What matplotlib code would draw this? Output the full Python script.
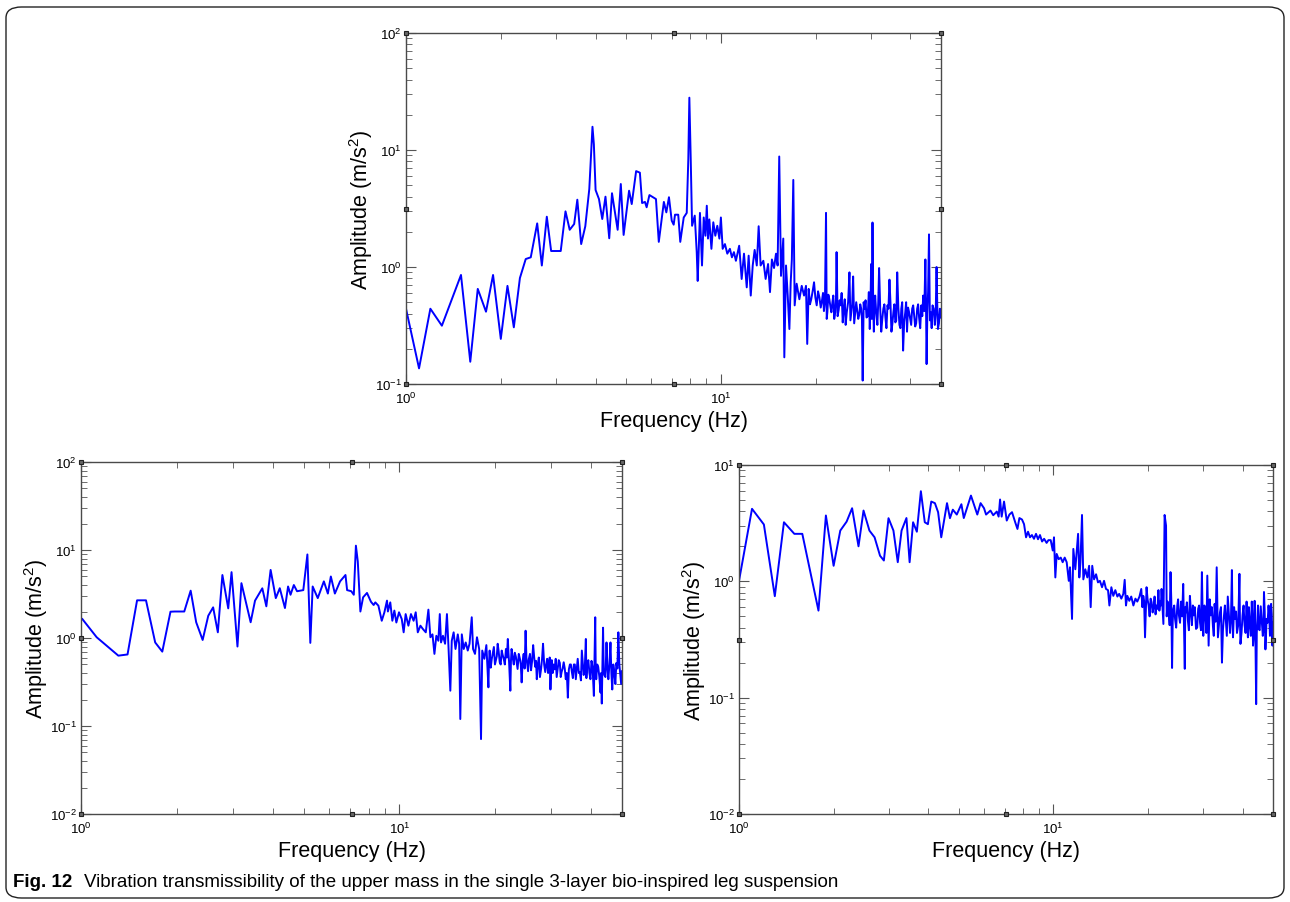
import matplotlib
matplotlib.use('agg')
import matplotlib.pyplot as plt
from matplotlib.patches import FancyBboxPatch
from matplotlib.ticker import LogLocator, NullFormatter

plt.rcParams['font.family'] = ['Liberation Sans', 'DejaVu Sans']
plt.rcParams['mathtext.fontset'] = 'custom'
plt.rcParams['mathtext.rm'] = 'Liberation Sans'
plt.rcParams['mathtext.it'] = 'Liberation Sans:italic'
plt.rcParams['mathtext.bf'] = 'Liberation Sans:bold'

# upper mass spectrum (top panel)
top_freq = [1.00, 1.10, 1.195, 1.30, 1.495, 1.60, 1.69, 1.795, 1.89, 2.00, 2.10, 2.20, 2.30, 2.40, 2.49,
            2.61, 2.70, 2.80, 2.89, 3.10, 3.21, 3.31, 3.42, 3.50, 3.60, 3.71, 3.82, 3.91, 3.95, 4.00,
            4.10, 4.20, 4.30, 4.42, 4.51, 4.70, 4.81, 4.91, 5.11, 5.21, 5.38, 5.53, 5.62, 5.74, 5.81,
            5.93, 6.22, 6.35, 6.59, 6.71, 6.84, 6.98, 7.08, 7.15, 7.32, 7.43, 7.62, 7.79, 7.88, 7.94,
            8.02, 8.10, 8.26, 8.38, 8.44, 8.58, 8.71, 8.82, 8.93, 9.02, 9.10, 9.19, 9.33, 9.46, 9.60,
            9.74, 9.89, 10.0, 10.13, 10.3, 10.48, 10.68, 10.84, 11.0, 11.16, 11.43, 11.64, 11.84, 12.08, 12.25,
            12.44, 12.62, 12.8, 13.0, 13.18, 13.37, 13.64, 13.87, 14.12, 14.32, 14.52, 14.75, 14.96, 15.14, 15.32,
            15.52, 15.78, 15.9, 16.1, 16.3, 16.5, 16.66, 16.8, 16.98, 17.15, 17.4, 17.75, 18.06, 18.37, 18.63,
            18.8, 19.0, 19.36, 19.76, 20.15, 20.55, 20.95, 21.24, 21.57, 21.78, 22.1, 22.43, 22.75, 23.08, 23.3,
            23.66, 24.0, 24.37, 24.73, 25.1, 25.6, 25.95, 26.3, 26.7, 27.1, 27.5, 27.9, 28.2, 28.6, 29.0,
            29.5, 29.7, 30.0, 30.3, 30.6, 30.9, 31.4, 31.8, 32.3, 32.8, 33.3, 33.8, 34.3, 34.8, 35.3,
            35.8, 36.3, 36.9, 37.4, 37.9, 38.5, 39.0, 39.6, 40.2, 40.8, 41.4, 42.0, 42.6, 43.3, 43.9,
            44.6, 45.0, 45.5, 45.8, 46.4, 47.0, 47.8, 48.4, 48.9, 49.6, 50.0]
top_amp = [0.44, 0.136, 0.44, 0.315, 0.855, 0.155, 0.65, 0.415, 0.855, 0.243, 0.69, 0.305, 0.805, 1.17, 1.21,
           2.36, 1.03, 2.69, 1.37, 1.37, 2.99, 2.08, 2.33, 3.76, 1.57, 2.23, 4.64, 15.8, 11.2, 4.55,
           3.81, 2.57, 3.99, 1.76, 4.27, 2.08, 5.12, 1.88, 4.49, 3.45, 6.6, 6.4, 3.52, 3.6, 3.24,
           4.12, 3.81, 1.64, 3.6, 2.93, 3.95, 2.49, 2.3, 2.8, 2.8, 1.64, 2.65, 2.9, 8.4, 28.0,
           8.4, 2.25, 2.75, 1.34, 0.76, 2.9, 1.03, 2.65, 1.85, 3.34, 1.75, 2.55, 1.43, 2.41, 1.85,
           2.25, 1.75, 2.65, 1.43, 1.57, 1.3, 1.43, 1.21, 1.34, 1.13, 1.52, 0.79, 1.3, 0.67, 1.25,
           0.57, 1.03, 1.4, 1.03, 2.23, 1.03, 1.13, 0.79, 1.06, 0.61, 1.16, 0.98, 1.3, 1.03, 8.8,
           0.84, 1.75, 0.169, 1.03, 0.57, 0.295, 0.74, 1.16, 5.55, 0.47, 0.72, 0.53, 0.69, 0.57, 0.69,
           0.22, 0.65, 0.53, 0.74, 0.47, 0.55, 0.52, 0.42, 2.9, 0.41, 0.53, 0.41, 0.57, 0.41, 1.34,
           0.43, 0.47, 0.336, 0.53, 0.41, 0.90, 0.41, 0.83, 0.41, 0.42, 0.39, 0.44, 0.107, 0.44, 0.37,
           0.61, 0.295, 1.06, 2.4, 0.28, 0.57, 0.32, 0.98, 0.28, 0.44, 0.37, 0.47, 0.78, 0.28, 0.41,
           0.336, 0.90, 0.32, 0.44, 0.193, 0.41, 0.28, 0.41, 0.32, 0.47, 0.31, 0.44, 0.37, 0.47, 0.57,
           1.16, 0.148, 0.61, 1.9, 0.41, 0.47, 0.32, 1.0, 0.295, 0.44, 0.37]
# extra bins inside the dense noise band above ~19 Hz
top_band_freq = [19.18, 19.56, 19.95, 20.35, 20.75, 21.1, 21.4, 21.68, 21.94, 22.27, 22.6, 22.9, 23.2, 23.48,
                 23.83, 24.18, 24.55, 24.9, 25.35, 25.78, 26.12, 26.5, 26.9, 27.3, 27.7, 28.05, 28.4, 28.8,
                 29.25, 29.85, 30.15, 30.45, 30.75, 31.15, 31.6, 32.05, 32.55, 33.05, 33.55, 34.05, 34.55,
                 35.05, 35.55, 36.05, 36.6, 37.15, 37.65, 38.2, 38.75, 39.3, 39.9, 40.5, 41.1, 41.7, 42.3,
                 42.95, 43.6, 44.25, 44.8, 45.25, 46.1, 46.7, 47.4, 48.1, 48.65, 49.25, 49.8]
top_band_amp = [0.48, 0.62, 0.55, 0.62, 0.45, 0.6, 0.5, 0.36, 0.58, 0.46, 0.5, 0.36, 0.55, 0.38,
                0.52, 0.6, 0.44, 0.32, 0.5, 0.35, 0.48, 0.33, 0.5, 0.36, 0.48, 0.36, 0.5, 0.52,
                0.38, 0.45, 0.36, 0.5, 0.48, 0.4, 0.5, 0.45, 0.36, 0.48, 0.3, 0.44, 0.5,
                0.33, 0.48, 0.35, 0.45, 0.3, 0.5, 0.34, 0.5, 0.45, 0.36, 0.44, 0.38, 0.33, 0.48,
                0.3, 0.38, 0.42, 0.5, 0.4, 0.35, 0.3, 0.44, 0.4, 0.48, 0.33, 0.42]

# bottom-left panel
left_freq = [1.01, 1.12, 1.31, 1.40, 1.50, 1.60, 1.71, 1.80, 1.91, 1.97, 2.11, 2.21, 2.30, 2.41, 2.51,
             2.60, 2.69, 2.78, 2.90, 2.97, 3.10, 3.19, 3.41, 3.52, 3.71, 3.82, 3.94, 4.09, 4.21, 4.37,
             4.47, 4.55, 4.66, 4.77, 4.99, 5.14, 5.25, 5.34, 5.54, 5.79, 5.96, 6.09, 6.27, 6.51, 6.77,
             6.85, 7.06, 7.19, 7.30, 7.40, 7.54, 7.69, 7.91, 8.14, 8.30, 8.40, 8.59, 8.80, 8.97, 9.14,
             9.20, 9.36, 9.50, 9.64, 9.78, 9.97, 10.17, 10.31, 10.46, 10.67, 10.87, 11.08, 11.25, 11.42, 11.64,
             11.86, 12.1, 12.33, 12.51, 12.7, 12.88, 13.06, 13.25, 13.39, 13.51, 13.7, 13.91, 14.1, 14.25, 14.45,
             14.6, 14.8, 15.0, 15.25, 15.4, 15.53, 15.7, 15.92, 16.15, 16.39, 16.6, 16.87, 17.03, 17.27, 17.52,
             17.8, 18.04, 18.2, 18.48, 18.75, 19.03, 19.2, 19.5, 19.8, 20.1, 20.35, 20.65, 20.95, 21.26, 21.6,
             21.9, 22.1, 22.3, 22.5, 22.86, 23.2, 23.5, 23.9, 24.2, 24.56, 24.9, 25.2, 25.5, 25.9, 26.3,
             26.7, 27.0, 27.4, 27.85, 28.25, 28.7, 29.1, 29.5, 29.8, 30.1, 30.5, 30.96, 31.4, 31.9, 32.3,
             32.8, 33.3, 33.8, 34.3, 34.8, 35.3, 35.8, 36.3, 36.85, 37.4, 37.9, 38.5, 38.8, 39.2, 39.8,
             40.4, 40.8, 41.2, 41.5, 42.1, 42.8, 43.2, 43.6, 44.0, 44.7, 45.3, 46.0, 46.6, 47.3, 48.0,
             48.7, 49.4, 50.0]
left_amp = [1.64, 1.02, 0.63, 0.65, 2.68, 2.68, 0.89, 0.70, 1.99, 2.0, 2.0, 3.45, 1.51, 0.95, 1.79,
            2.23, 1.16, 5.2, 2.17, 5.6, 0.80, 4.2, 1.51, 2.66, 3.67, 2.29, 5.94, 2.84, 3.68, 2.19,
            3.85, 3.1, 4.0, 3.4, 3.5, 8.9, 0.88, 3.85, 2.84, 4.4, 3.2, 5.0, 3.2, 4.4, 5.2,
            3.5, 3.4, 3.1, 11.2, 7.4, 2.0, 2.9, 3.25, 2.58, 2.37, 2.54, 2.33, 1.57, 1.96, 2.66,
            2.0, 2.54, 1.57, 2.05, 1.5, 1.96, 1.64, 1.16, 1.87, 1.38, 1.87, 1.57, 1.96, 1.16, 1.38,
            1.26, 1.16, 2.1, 1.02, 1.1, 0.66, 1.06, 0.93, 1.87, 0.89, 1.06, 0.86, 1.87, 0.83, 0.252,
            0.93, 1.16, 0.75, 1.1, 0.86, 0.12, 1.1, 0.75, 0.89, 0.72, 0.86, 1.72, 0.75, 0.66, 1.02,
            0.75, 0.071, 0.72, 0.58, 0.83, 0.275, 0.72, 0.58, 0.79, 0.56, 0.86, 0.53, 0.72, 0.58, 0.75,
            0.975, 0.53, 0.252, 0.75, 0.50, 0.62, 0.445, 0.58, 0.313, 0.66, 1.21, 0.50, 0.58, 0.43, 0.83,
            0.47, 0.34, 0.6, 0.445, 0.86, 0.41, 0.58, 0.52, 0.26, 0.56, 0.50, 0.58, 0.445, 0.52, 0.41,
            0.53, 0.34, 0.21, 0.50, 0.41, 0.5, 0.34, 0.58, 0.41, 0.72, 0.38, 0.975, 0.445, 0.56, 0.34,
            0.47, 0.22, 1.72, 0.34, 0.47, 0.24, 0.18, 1.31, 0.38, 0.89, 0.34, 0.89, 0.26, 0.41, 0.52,
            1.16, 0.38, 0.42]
left_band_freq = [19.1, 19.35, 19.65, 19.95, 20.22, 20.5, 20.8, 21.1, 21.43, 21.75, 22.0, 22.4, 22.68, 23.03,
                  23.35, 23.7, 24.05, 24.38, 24.73, 25.05, 25.35, 25.7, 26.1, 26.5, 26.85, 27.2, 27.62, 28.05,
                  28.48, 28.9, 29.3, 29.65, 29.95, 30.3, 30.73, 31.18, 31.65, 32.1, 32.55, 33.05, 33.55, 34.05,
                  34.55, 35.05, 35.55, 36.05, 36.6, 37.15, 37.65, 38.2, 38.65, 39.0, 39.5, 40.1, 40.6, 41.35,
                  41.8, 42.45, 43.0, 43.4, 43.8, 44.35, 45.0, 45.65, 46.3, 46.95, 47.65, 48.35, 49.05, 49.7]
left_band_amp = [0.5, 0.46, 0.68, 0.5, 0.62, 0.7, 0.5, 0.64, 0.5, 0.6, 0.68, 0.55, 0.6, 0.68,
                 0.52, 0.66, 0.5, 0.55, 0.45, 0.6, 0.42, 0.66, 0.55, 0.6, 0.55, 0.5, 0.36, 0.58,
                 0.5, 0.5, 0.4, 0.6, 0.42, 0.4, 0.44, 0.36, 0.56, 0.36, 0.45, 0.45, 0.4, 0.44,
                 0.5, 0.35, 0.5, 0.45, 0.4, 0.33, 0.52, 0.45, 0.35, 0.52, 0.4, 0.55, 0.32, 0.45,
                 0.5, 0.36, 0.4, 0.5, 0.45, 0.36, 0.46, 0.5, 0.4, 0.5, 0.3, 0.45, 0.5, 0.3]

# bottom-right panel
right_freq = [1.00, 1.10, 1.20, 1.30, 1.39, 1.50, 1.59, 1.79, 1.89, 2.00, 2.10, 2.20, 2.29, 2.40, 2.49,
              2.60, 2.70, 2.81, 2.89, 2.99, 3.10, 3.20, 3.29, 3.41, 3.49, 3.58, 3.68, 3.79, 3.90, 3.99,
              4.09, 4.20, 4.30, 4.40, 4.59, 4.69, 4.79, 4.93, 5.10, 5.19, 5.47, 5.73, 5.87, 6.02, 6.11,
              6.31, 6.44, 6.61, 6.70, 6.77, 6.85, 6.97, 7.11, 7.25, 7.39, 7.57, 7.69, 7.80, 7.95, 8.07,
              8.19, 8.31, 8.43, 8.55, 8.68, 8.81, 8.94, 9.07, 9.21, 9.35, 9.52, 9.65, 9.81, 9.96, 10.05,
              10.15, 10.25, 10.4, 10.56, 10.71, 10.87, 11.03, 11.2, 11.3, 11.47, 11.58, 11.75, 11.99, 12.1, 12.2,
              12.34, 12.46, 12.64, 12.83, 13.0, 13.15, 13.3, 13.48, 13.68, 13.87, 14.07, 14.29, 14.5, 14.71, 14.93,
              15.08, 15.3, 15.52, 15.75, 15.99, 16.2, 16.46, 16.7, 16.87, 17.03, 17.2, 17.45, 17.7, 17.98, 18.25,
              18.5, 18.8, 19.05, 19.33, 19.58, 19.8, 20.1, 20.4, 20.7, 21.0, 21.3, 21.6, 21.9, 22.1, 22.4,
              22.6, 22.84, 23.1, 23.3, 23.6, 23.87, 24.1, 24.4, 24.8, 25.1, 25.5, 25.9, 26.2, 26.4, 26.8,
              27.2, 27.6, 28.0, 28.45, 28.9, 29.3, 29.7, 30.0, 30.5, 30.9, 31.2, 31.7, 32.2, 32.6, 33.1,
              33.4, 33.9, 34.4, 34.9, 35.4, 35.9, 36.5, 37.0, 37.3, 37.9, 38.4, 39.1, 39.4, 40.0, 40.6,
              41.2, 41.6, 42.2, 42.8, 43.2, 43.7, 44.2, 44.6, 45.0, 45.7, 46.4, 46.8, 47.3, 47.7, 48.4,
              48.9, 49.3, 49.8, 50.0]
right_amp = [1.01, 4.2, 3.08, 0.745, 3.22, 2.56, 2.56, 0.56, 3.68, 1.36, 2.73, 3.26, 4.25, 2.0, 4.06,
             2.73, 2.39, 1.66, 1.51, 3.49, 2.73, 1.46, 2.73, 3.5, 1.46, 3.22, 2.67, 5.95, 3.22, 3.1,
             4.85, 4.7, 3.93, 2.39, 4.7, 3.49, 4.13, 3.75, 4.6, 3.5, 5.46, 3.75, 4.7, 4.25, 3.75,
             4.06, 3.7, 3.98, 3.6, 5.05, 3.6, 4.85, 3.33, 3.75, 3.93, 3.2, 2.82, 3.5, 3.4, 3.1,
             2.39, 2.67, 2.39, 2.5, 2.32, 2.56, 2.3, 2.5, 2.2, 2.32, 2.14, 2.26, 2.26, 1.84, 2.39,
             1.08, 1.72, 1.55, 1.6, 1.46, 1.6, 1.46, 1.01, 1.32, 0.475, 1.90, 1.27, 2.56, 1.08, 1.46,
             3.72, 1.04, 1.27, 1.08, 1.36, 0.60, 1.36, 1.04, 1.15, 0.98, 1.01, 0.89, 1.01, 0.86, 0.84,
             0.62, 0.89, 0.75, 0.84, 0.74, 0.78, 0.71, 0.78, 1.03, 0.62, 0.75, 0.68, 0.74, 0.62, 0.71,
             0.67, 0.74, 0.86, 0.75, 0.33, 0.89, 0.62, 0.71, 0.54, 0.74, 0.62, 0.84, 0.67, 0.86, 0.43,
             3.72, 3.01, 0.67, 0.54, 1.2, 0.18, 0.58, 0.475, 0.62, 0.51, 0.67, 0.95, 0.177, 0.54, 0.46,
             0.75, 0.42, 0.51, 0.39, 0.58, 0.44, 1.2, 0.34, 0.51, 1.12, 0.28, 0.51, 0.41, 0.64, 1.32,
             0.33, 0.54, 0.20, 0.5, 0.46, 0.74, 0.36, 1.25, 0.33, 0.475, 0.36, 1.16, 0.29, 0.51, 0.42,
             0.67, 0.33, 0.42, 0.67, 0.28, 0.68, 0.088, 0.475, 0.39, 0.61, 0.34, 0.81, 0.26, 0.475, 0.62,
             0.34, 0.64, 0.28, 0.44]
right_band_freq = [19.2, 19.45, 19.7, 19.95, 20.25, 20.55, 20.85, 21.15, 21.45, 21.75, 22.0, 22.25, 22.95, 23.2,
                   23.45, 23.73, 23.98, 24.25, 24.6, 24.95, 25.3, 25.7, 26.3, 26.6, 27.0, 27.4, 27.8, 28.2,
                   28.7, 29.1, 29.5, 29.85, 30.25, 30.7, 31.05, 31.45, 31.95, 32.4, 32.85, 33.25, 33.65, 34.15,
                   34.65, 35.15, 35.65, 36.2, 36.75, 37.15, 37.6, 38.15, 38.75, 39.25, 39.7, 40.3, 40.9, 41.4,
                   41.9, 42.5, 43.0, 43.45, 43.95, 44.4, 44.8, 45.35, 46.05, 46.6, 47.05, 47.5, 48.05, 48.65,
                   49.1, 49.55]
right_band_amp = [0.6, 0.68, 0.55, 0.7, 0.5, 0.66, 0.6, 0.52, 0.58, 0.56, 0.62, 0.6, 0.5, 0.6,
                  0.42, 0.7, 0.45, 0.62, 0.4, 0.7, 0.44, 0.5, 0.6, 0.66, 0.38, 0.55, 0.62, 0.6,
                  0.4, 0.62, 0.38, 0.55, 0.62, 0.36, 0.55, 0.7, 0.6, 0.34, 0.45, 0.62, 0.42, 0.6,
                  0.38, 0.62, 0.34, 0.52, 0.48, 0.5, 0.6, 0.55, 0.42, 0.45, 0.36, 0.62, 0.36, 0.45,
                  0.6, 0.34, 0.5, 0.35, 0.35, 0.36, 0.62, 0.38, 0.45, 0.38, 0.55, 0.34, 0.44, 0.5,
                  0.42, 0.52]


def merged(freq, amp, band_freq, band_amp):
    pts = sorted(zip(freq + band_freq, amp + band_amp))
    return [p[0] for p in pts], [p[1] for p in pts]


fig = plt.figure(figsize=(12.9, 9.03), dpi=100)

# rounded frame around the whole figure
frame = FancyBboxPatch((6 / 1290, 4 / 903), 1278 / 1290, 891 / 903,
                       boxstyle='round,pad=0,rounding_size=0.012',
                       transform=fig.transFigure, fill=False, ec='#222222', lw=1.0)
fig.patches.append(frame)

panels = [
    ([406 / 1290, 1 - 385 / 903, 535 / 1290, 351 / 903],
     merged(top_freq, top_amp, top_band_freq, top_band_amp), (0.1, 100)),
    ([81 / 1290, 1 - 815 / 903, 541 / 1290, 352 / 903],
     merged(left_freq, left_amp, left_band_freq, left_band_amp), (0.01, 100)),
    ([739 / 1290, 1 - 815 / 903, 534 / 1290, 349 / 903],
     merged(right_freq, right_amp, right_band_freq, right_band_amp), (0.01, 10)),
]

for rect, (freq, amp), ylim in panels:
    ax = fig.add_axes(rect)
    ax.loglog(freq, amp, color='#0000ff', lw=1.4)
    ax.set_xlim(1, 50)
    ax.set_ylim(*ylim)
    ax.xaxis.set_minor_locator(LogLocator(base=10, subs=range(2, 10)))
    ax.yaxis.set_minor_locator(LogLocator(base=10, subs=range(2, 10)))
    ax.xaxis.set_minor_formatter(NullFormatter())
    ax.yaxis.set_minor_formatter(NullFormatter())
    ax.tick_params(which='both', direction='in', top=True, right=True,
                   color='#555555', labelsize=9.5)
    ax.tick_params(axis='x', pad=5)
    ax.tick_params(axis='y', pad=3)
    ax.tick_params(which='major', length=7, width=0.8)
    ax.tick_params(which='minor', length=4, width=0.6)
    for s in ax.spines.values():
        s.set_color('#4a4a4a')
        s.set_linewidth(1.0)
    ax.set_xlabel('Frequency (Hz)', fontsize=15.5, labelpad=3)
    ax.set_ylabel('Amplitude (m/s$^2$)', fontsize=15.5)
    ax.yaxis.set_label_coords(-0.058, 0.5)
    # selection handles on corners and edge midpoints
    hx = [0, 0.5, 1, 0, 1, 0, 0.5, 1]
    hy = [0, 0, 0, 0.5, 0.5, 1, 1, 1]
    ax.plot(hx, hy, 's', ms=3.5, mfc='#666666', mec='#222222', mew=0.8,
            transform=ax.transAxes, clip_on=False, zorder=5)

fig.text(13 / 1290, 1 - 883 / 903, 'Fig. 12', fontsize=13.5, fontweight='bold', va='center')
fig.text(84 / 1290, 1 - 883 / 903,
         'Vibration transmissibility of the upper mass in the single 3-layer bio-inspired leg suspension',
         fontsize=13.5, va='center')

fig.savefig('out.png', dpi=100)
